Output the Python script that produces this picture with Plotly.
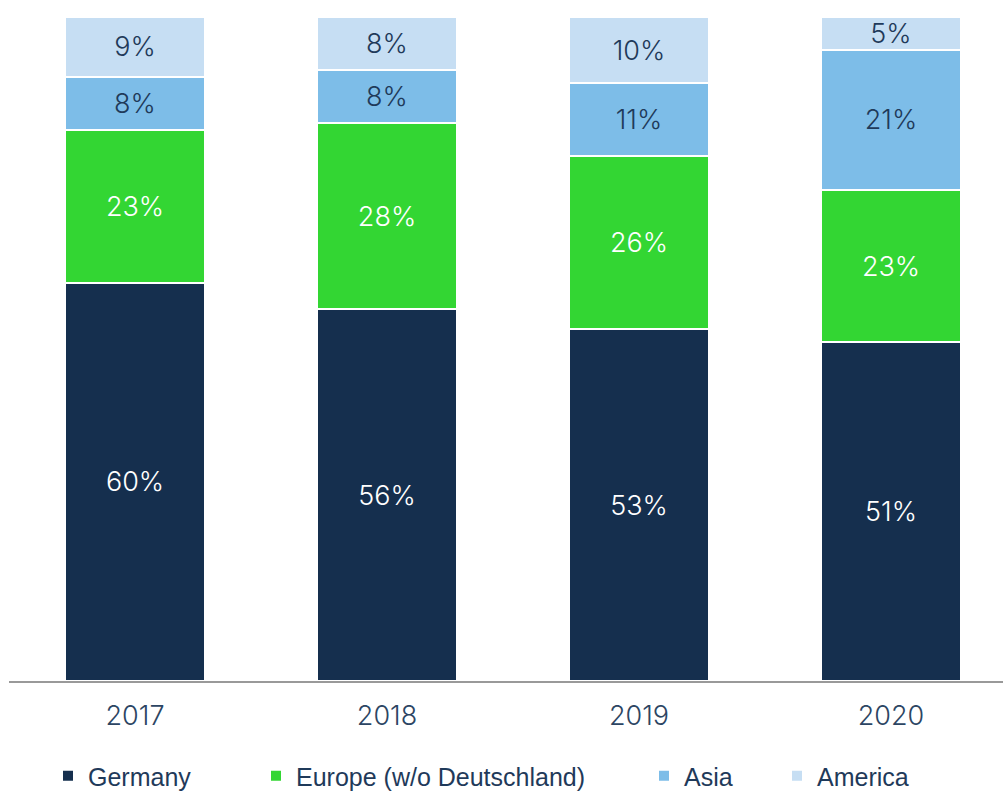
import plotly.graph_objects as go

years = ["2017", "2018", "2019", "2020"]
germany = [60, 56, 53, 51]
europe = [23, 28, 26, 23]
asia = [8, 8, 11, 21]
america = [9, 8, 10, 5]

# name, values, bar colour, label colour, legend id, legend left (px)
series = [
    ("Germany", germany, "#152F4E", "white", "legend", 48),
    ("Europe (w/o Deutschland)", europe, "#33D633", "white", "legend2", 256),
    ("Asia", asia, "#7DBDE8", "#1F3A5A", "legend3", 644),
    ("America", america, "#C6DEF3", "#1F3A5A", "legend4", 777),
]

W, H = 1003, 792
L, R, T, B = 9, 0, 17, 111
pw = W - L - R
ph = H - T - B

fig = go.Figure()
for name, vals, color, tcolor, leg, _ in series:
    fig.add_trace(go.Bar(
        x=years, y=vals, name=name,
        marker=dict(color=color, line=dict(color="white", width=2)),
        text=[f"{v}%" for v in vals],
        textposition="inside", insidetextanchor="middle", textangle=0,
        constraintext="none",
        insidetextfont=dict(family="Inter", size=27, color=tcolor, weight=300),
        width=0.555, legend=leg, hoverinfo="skip",
    ))

legend_common = dict(orientation="h", yanchor="middle", xanchor="left",
                     font=dict(family="Liberation Sans, Arial, sans-serif",
                               size=25, color="#1F3A5A"),
                     bgcolor="rgba(0,0,0,0)", borderwidth=0, itemwidth=30)
layout_leg = {}
for name, vals, color, tcolor, leg, px in series:
    layout_leg[leg] = dict(legend_common, x=(px - L) / pw, y=(681 - 776) / ph)

fig.update_layout(
    width=W, height=H,
    margin=dict(l=L, r=R, t=T, b=B, autoexpand=False),
    barmode="stack",
    plot_bgcolor="white", paper_bgcolor="white",
    showlegend=True,
    xaxis=dict(range=[-0.5, (pw / 252) - 0.5], showline=True, linecolor="#999999", linewidth=2,
               showgrid=False, zeroline=False, ticks="", ticklabelstandoff=10,
               tickfont=dict(family="Inter", size=27, color="#2C4563", weight=300)),
    yaxis=dict(range=[0, 100], visible=False, showgrid=False, zeroline=False),
    **layout_leg,
)

fig.write_html("out.html", config={"displayModeBar": False},
               post_script="document.body.style.margin='0';document.body.style.overflow='hidden';")
